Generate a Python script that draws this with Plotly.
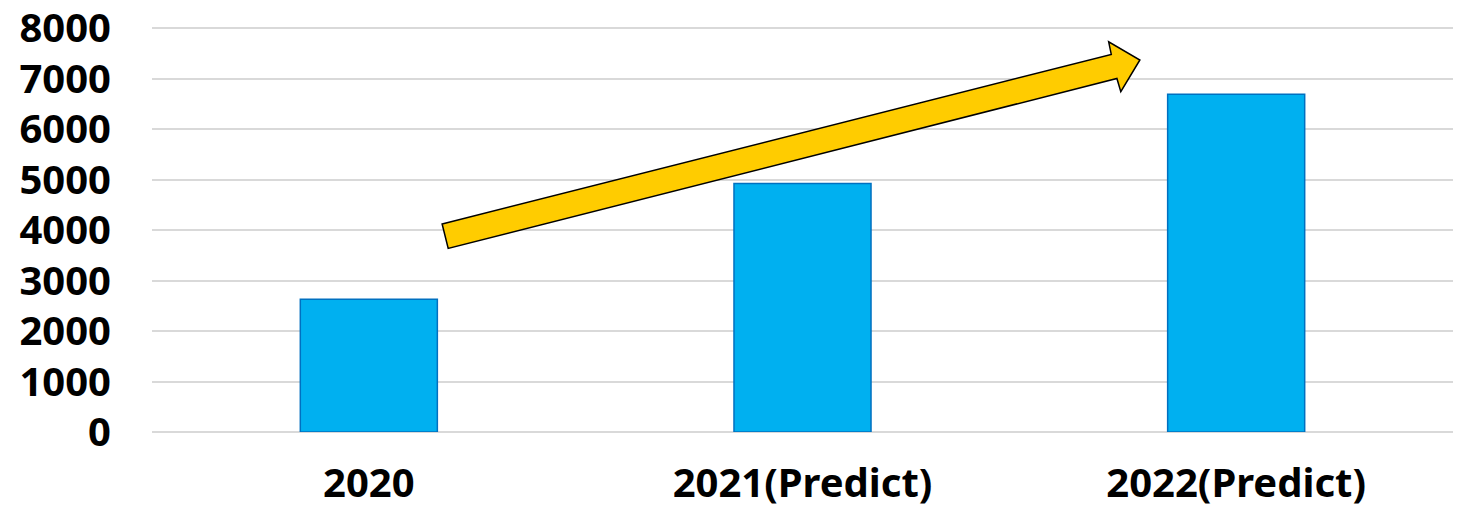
import plotly.graph_objects as go

categories = ["2020", "2021(Predict)", "2022(Predict)"]
values = [2630, 4920, 6690]
y_ticks = [0, 1000, 2000, 3000, 4000, 5000, 6000, 7000, 8000]

# Decorative trend arrow outline (category index, value)
arrow_x = [0.169, 1.712, 1.706, 1.778, 1.734, 1.725, 0.183]
arrow_y = [4118, 7477, 7727, 7367, 6739, 7000, 3635]

FONT = "Noto Sans"
FS = 40

fig = go.Figure()
fig.add_trace(go.Bar(
    x=categories, y=values,
    marker=dict(color="#00b0f0", line=dict(color="#0070c0", width=1.5)),
    hoverinfo="skip",
))

path = "M " + " L ".join(f"{x},{y}" for x, y in zip(arrow_x, arrow_y)) + " Z"
fig.add_shape(type="path", path=path, xref="x", yref="y",
              fillcolor="#ffcc00", line=dict(color="black", width=1.5), layer="above")

fig.update_layout(
    width=1465, height=509,
    margin=dict(l=152, r=12, t=27, b=77),
    plot_bgcolor="white", paper_bgcolor="white",
    bargap=0.684,
    showlegend=False,
    font=dict(family=FONT, size=FS, color="black"),
    xaxis=dict(
        showgrid=False, showline=False, zeroline=False, automargin=False,
        tickfont=dict(family=FONT, size=FS, color="black", weight="bold"),
        ticklabelstandoff=24,
    ),
    yaxis=dict(
        range=[0, 8020], tickvals=y_ticks, automargin=False,
        showgrid=True, gridcolor="#d9d9d9", gridwidth=1.5,
        zeroline=True, zerolinecolor="#d9d9d9", zerolinewidth=1.5,
        showline=False, ticklabeloverflow="allow",
        tickfont=dict(family=FONT, size=FS, color="black", weight="bold"),
        ticklabelstandoff=40,
    ),
)

fig.write_html("out.html", config={"displayModeBar": False},
               post_script="document.body.style.margin='0';")
